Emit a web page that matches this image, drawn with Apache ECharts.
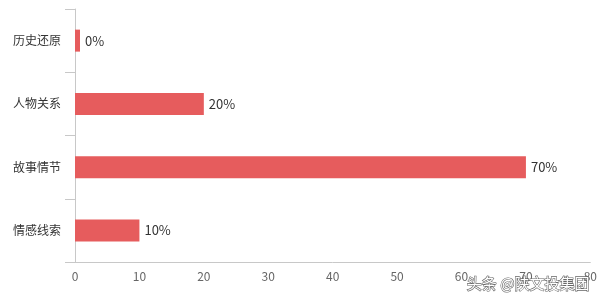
<!DOCTYPE html>
<html><head><meta charset="utf-8">
<script src="https://cdn.jsdelivr.net/npm/echarts@6/dist/echarts.min.js"></script>
<style>html,body{margin:0;padding:0;background:#fff}#c{width:600px;height:300px}</style>
</head><body><div id="c"></div>
<script>
const categories = ['历史还原', '人物关系', '故事情节', '情感线索'];
const values = [0, 20, 70, 10];
const xTicks = [0, 10, 20, 30, 40, 50, 60, 70, 80];

const chart = echarts.init(document.getElementById('c'), null, {renderer: 'canvas'});
chart.setOption({
  animation: false,
  textStyle: {fontFamily: '"Noto Sans CJK SC", "Noto Sans", sans-serif'},
  grid: {left: 75, right: 9, top: 9, bottom: 38, containLabel: false},
  xAxis: {
    type: 'value', min: xTicks[0], max: xTicks[xTicks.length - 1], interval: 10,
    axisLine: {show: true, lineStyle: {color: '#c8c8c8'}},
    axisTick: {show: false},
    splitLine: {show: false},
    axisLabel: {color: '#666', fontSize: 12, margin: 8}
  },
  yAxis: {
    type: 'category', data: categories, inverse: true,
    axisLine: {show: true, lineStyle: {color: '#c8c8c8'}},
    axisTick: {show: true, length: 10, lineStyle: {color: '#c8c8c8'}},
    axisLabel: {color: '#333', fontSize: 12, margin: 14}
  },
  series: [{
    type: 'bar', data: values, barWidth: 22, barMinHeight: 5,
    itemStyle: {color: '#e65c5d'},
    label: {show: true, position: 'right', distance: 5, color: '#333', fontSize: 13,
      formatter: p => p.value + '%'}
  }],
  graphic: [{
    type: 'text', right: 10, bottom: 9, z: 100,
    style: {text: '头条 @陕文投集团', fontSize: 15, fill: '#fff',
      fontFamily: '"Noto Sans CJK SC", sans-serif',
      stroke: '#666', lineWidth: 1.2}
  }]
});
</script></body></html>
